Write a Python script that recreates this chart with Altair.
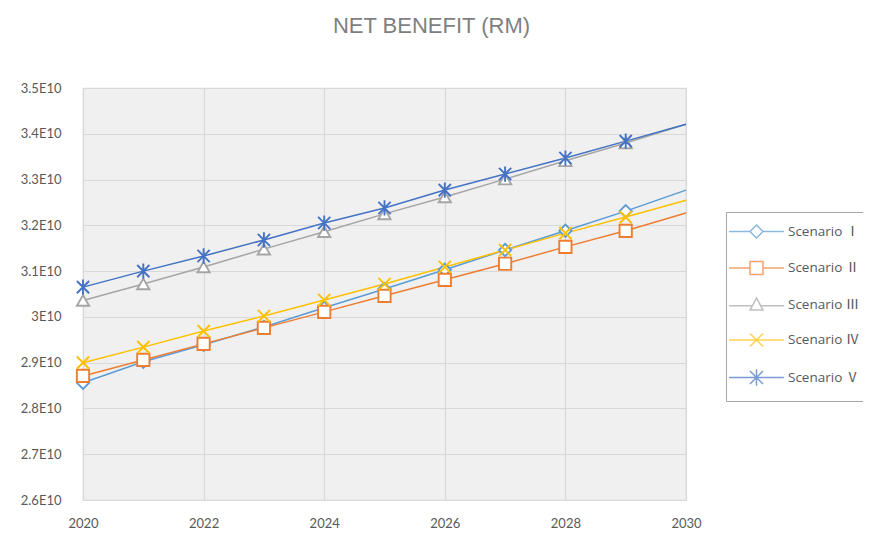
import altair as alt
import pandas as pd

years = list(range(2020, 2031))
names = ["Scenario Ⅰ", "Scenario Ⅱ", "Scenario Ⅲ", "Scenario Ⅳ", "Scenario Ⅴ"]
colors = ["#5B9BD5", "#ED7D31", "#A5A5A5", "#FFC000", "#4472C4"]

s1 = [2.856e10, 2.902e10, 2.939e10, 2.978e10, 3.020e10, 3.061e10, 3.103e10, 3.146e10, 3.188e10, 3.231e10, 3.277e10]
s2 = [2.871e10, 2.906e10, 2.941e10, 2.976e10, 3.011e10, 3.046e10, 3.081e10, 3.116e10, 3.153e10, 3.188e10, 3.227e10]
s3 = [3.036e10, 3.072e10, 3.109e10, 3.148e10, 3.186e10, 3.225e10, 3.262e10, 3.301e10, 3.341e10, 3.380e10, 3.421e10]
s4 = [2.900e10, 2.934e10, 2.969e10, 3.002e10, 3.037e10, 3.072e10, 3.109e10, 3.146e10, 3.183e10, 3.218e10, 3.255e10]
s5 = [3.065e10, 3.100e10, 3.133e10, 3.168e10, 3.205e10, 3.238e10, 3.277e10, 3.312e10, 3.347e10, 3.384e10, 3.421e10]

y_ticks = [2.6e10, 2.7e10, 2.8e10, 2.9e10, 3.0e10, 3.1e10, 3.2e10, 3.3e10, 3.4e10, 3.5e10]
x_ticks = [2020, 2022, 2024, 2026, 2028, 2030]

marker_shapes = [
    "diamond",
    "square",
    "triangle-up",
    "M-1,-1L1,1M-1,1L1,-1",
    "M-1,-1L1,1M-1,1L1,-1M0,-1.25L0,1.25",
]
legend_shapes = [
    "M-4.2,0L-1,0M1,0L4.2,0M0,-1L1,0L0,1L-1,0Z",
    "M-4.2,0L-1,0M1,0L4.2,0M-1,-1L1,-1L1,1L-1,1Z",
    "M-4.2,0.2L-0.67,0.2M0.67,0.2L4.2,0.2M0,-1L1,0.85L-1,0.85Z",
    "M-4.2,0L4.2,0M-1,-1L1,1M-1,1L1,-1",
    "M-4.2,0L4.2,0M-1,-1L1,1M-1,1L1,-1M0,-1.25L0,1.25",
]

rows = []
for name, vals in zip(names, [s1, s2, s3, s4, s5]):
    for yr, v in zip(years, vals):
        rows.append({"year": yr, "value": v, "series": name})
df = pd.DataFrame(rows)

label_font = "Lato, 'Noto Sans', sans-serif"

x_enc = alt.X(
    "year:Q",
    scale=alt.Scale(domain=[2020, 2030], nice=False, zero=False),
    axis=alt.Axis(values=x_ticks, format="d", title=None, labelFont=label_font,
                  labelFontSize=13, labelColor="#595959", labelPadding=17,
                  labelFlush=False, ticks=False, domain=False,
                  gridColor="#d9d9d9", gridWidth=1.2),
)
y_enc = alt.Y(
    "value:Q",
    scale=alt.Scale(domain=[2.6e10, 3.5e10], nice=False, zero=False),
    axis=alt.Axis(values=y_ticks, title=None, labelFont=label_font,
                  labelFontSize=13, labelColor="#595959", labelPadding=22,
                  ticks=False, domain=False, gridColor="#d9d9d9", gridWidth=1.2,
                  labelExpr="format(datum.value/1e10, '.1~f') + 'E10'"),
)

color_scale = alt.Scale(domain=names, range=colors)
base = alt.Chart(df)

lines = base.mark_line(strokeWidth=1.5).encode(
    x=x_enc, y=y_enc,
    color=alt.Color("series:N", scale=color_scale, legend=None),
)

points = base.transform_filter("datum.year < 2030").mark_point(
    filled=True, size=150, strokeWidth=1.9, opacity=1
).encode(
    x=x_enc, y=y_enc,
    stroke=alt.Stroke("series:N", scale=color_scale, legend=None),
    fill=alt.value("white"),
    shape=alt.Shape("series:N", scale=alt.Scale(domain=names, range=marker_shapes), legend=None),
)

legend_layer = base.transform_filter("false").mark_point(
    filled=False, size=170, strokeWidth=1.5
).encode(
    x=x_enc, y=y_enc,
    color=alt.Color("series:N", scale=color_scale, legend=alt.Legend(title=None)),
    shape=alt.Shape("series:N", scale=alt.Scale(domain=names, range=legend_shapes),
                    legend=alt.Legend(title=None)),
)

chart = alt.layer(lines, points, legend_layer).resolve_scale(
    color="independent", shape="independent"
).properties(
    width=603,
    height=412,
    autosize=alt.AutoSizeParams(type="none"),
    padding={"left": 75, "top": 80, "right": 177, "bottom": 34},
    title=alt.TitleParams(
        "NET BENEFIT (RM)", font="Liberation Sans", fontSize=22, fontWeight="normal",
        color="#7f7f7f", anchor="middle", dx=47, offset=44,
    ),
).configure_view(
    fill="#f0f0f0", stroke="#d9d9d9", strokeWidth=1.2
).configure_legend(
    orient="none", legendX=643, legendY=124, padding=12, rowPadding=15.5,
    strokeColor="#a6a6a6", fillColor="white",
    labelFont="'Open Sans', 'Noto Sans CJK JP', sans-serif",
    labelFontSize=13.5, labelColor="#595959", symbolOffset=11, labelOffset=24,
    symbolSize=170, symbolStrokeWidth=1.5, labelLimit=300, cornerRadius=0,
)

chart.save("out.html", embed_options={"renderer": "svg", "actions": False})
